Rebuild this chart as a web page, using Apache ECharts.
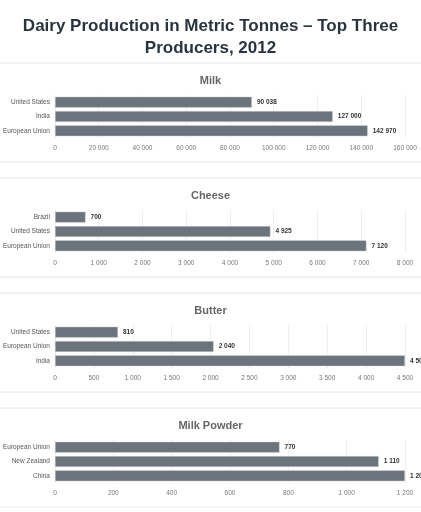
<!DOCTYPE html>
<html><head><meta charset="utf-8">
<script src="https://cdn.jsdelivr.net/npm/echarts@6/dist/echarts.min.js"></script>
<style>html,body{margin:0;padding:0;background:#fff}#c{width:421px;height:512px}</style>
</head><body><div id="c"></div>
<script>
const panelTitles = ["Milk", "Cheese", "Butter", "Milk Powder"];
const milkCats = ["United States", "India", "European Union"];
const milkVals = [90038, 127000, 142970];
const cheeseCats = ["Brazil", "United States", "European Union"];
const cheeseVals = [700, 4925, 7120];
const butterCats = ["United States", "European Union", "India"];
const butterVals = [810, 2040, 4500];
const powderCats = ["European Union", "New Zealand", "China"];
const powderVals = [770, 1110, 1200];
const axisMax = [160000, 8000, 4500, 1200];
const axisInterval = [20000, 1000, 500, 200];

const cats = [milkCats, cheeseCats, butterCats, powderCats];
const vals = [milkVals, cheeseVals, butterVals, powderVals];
const tops = [95, 210, 325, 440];
const fmt = v => String(v).replace(/\B(?=(\d{3})+(?!\d))/g, ' ');
const chart = echarts.init(document.getElementById('c'));
const graphic = [];
[63, 162, 178, 277, 293, 392, 408, 507].forEach(y => graphic.push({type:'line', shape:{x1:0,y1:y,x2:421,y2:y}, style:{stroke:'#e6e6e6', lineWidth:1}}));
chart.setOption({
  animation:false,
  title:[{text:'Dairy Production in Metric Tonnes – Top Three\nProducers, 2012', left:'center', top:10,
    textStyle:{fontSize:17, fontWeight:'bold', color:'#2a3440', lineHeight:22, fontFamily:'Liberation Sans'}}]
    .concat(panelTitles.map((t,i)=>({text:t, left:'center', top:tops[i]-25, textStyle:{fontSize:11, fontWeight:'bold', color:'#666', fontFamily:'Liberation Sans'}}))),
  graphic: graphic,
  grid: tops.map(t=>({left:54, right:16, top:t, height:43})),
  xAxis: vals.map((v,i)=>({type:'value', gridIndex:i, min:0, max:axisMax[i], interval:axisInterval[i],
    axisLabel:{fontSize:6.5, color:'#777', formatter:fmt, margin:7, fontFamily:'Liberation Sans'},
    splitLine:{lineStyle:{color:'#eee'}}, axisLine:{show:false}, axisTick:{show:false}})),
  yAxis: cats.map((c,i)=>({type:'category', gridIndex:i, data:c, inverse:true,
    axisLabel:{fontSize:6.5, color:'#555', margin:5, fontFamily:'Liberation Sans'}, axisLine:{show:false}, axisTick:{show:false}})),
  series: vals.map((v,i)=>({type:'bar', xAxisIndex:i, yAxisIndex:i, data:v, barWidth:11,
    itemStyle:{color:'#6b737c', borderColor:'#d8d8d8', borderWidth:0.5},
    label:{show:true, position:'right', formatter:p=>fmt(p.value), fontSize:6.5, fontWeight:'bold', color:'#333', distance:5}}))
});
</script></body></html>
